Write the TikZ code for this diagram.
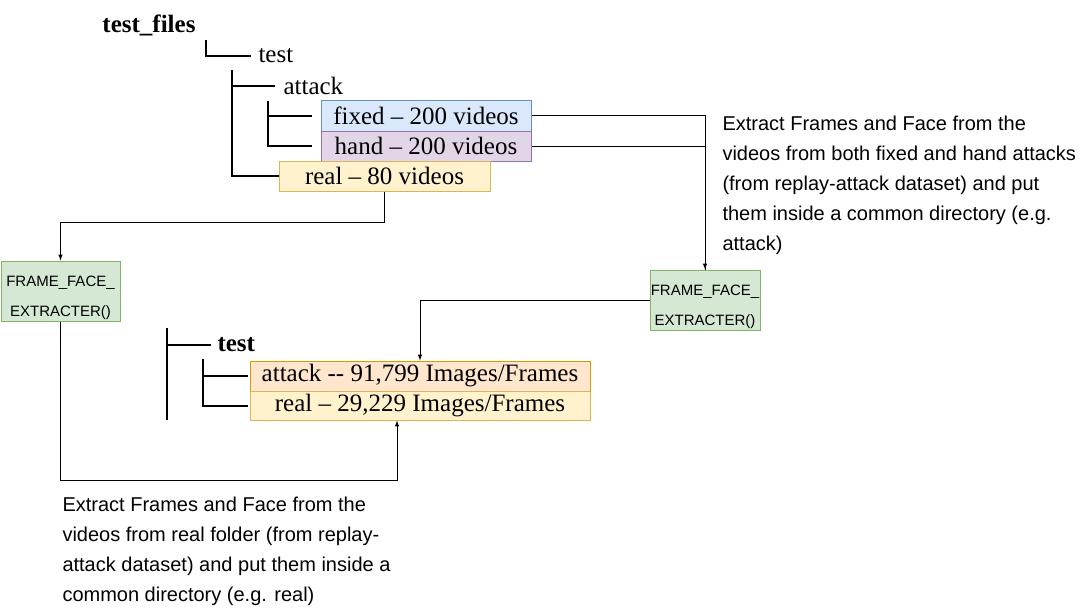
\documentclass[tikz,border=0pt]{standalone}
\usepackage{fontspec}
\setmainfont{Liberation Serif}
\setsansfont{Liberation Sans}
\usetikzlibrary{positioning}
\usetikzlibrary{arrows.meta}
\definecolor{fixedfill}{HTML}{DAE8FC}
\definecolor{fixedline}{HTML}{6C8EBF}
\definecolor{handfill}{HTML}{E1D5E7}
\definecolor{handline}{HTML}{9673A6}
\definecolor{realfill}{HTML}{FFF2CC}
\definecolor{realline}{HTML}{D6B656}
\definecolor{attackfill}{HTML}{FFE6CC}
\definecolor{attackline}{HTML}{D79B00}
\definecolor{funcfill}{HTML}{D5E8D4}
\definecolor{funcline}{HTML}{82B366}
\tikzset{
    tree/.style={line width=2pt},
    label/.style={anchor=west, inner sep=0pt, font=\fontsize{25}{30}\selectfont},
    folder/.style={draw, line width=1pt, inner sep=0pt, minimum height=30, font=\fontsize{25}{30}\selectfont},
    func/.style={draw=funcline, fill=funcfill, line width=1pt, inner sep=0pt, minimum width=110, minimum height=60, align=center, font=\sffamily\fontsize{15}{30}\selectfont},
    note/.style={anchor=north west, inner sep=0pt, align=left, font=\sffamily\fontsize{20}{30}\selectfont}
}
\newcommand{\funcname}{\rule{0pt}{25pt}FRAME\_FACE\_\\EXTRACTER()}
\begin{document}
\begin{tikzpicture}[x=1pt, y=-1pt, line width=1pt]
    \useasboundingbox (0,0) rectangle (1081,611);

    \node[font=\bfseries\fontsize{25}{30}\selectfont, inner sep=0pt] (root) at (149,25) {test\_files};
    \node[label] (test) at (258,56) {test};
    \node[label] (attack) at (283,86) {attack};
    \node[folder, draw=fixedline, fill=fixedfill, minimum width=210, minimum height=31] (fixed) at (426,115.5) {fixed – 200 videos};
    \node[folder, draw=handline, fill=handfill, minimum width=210] (hand) at (426,146) {hand – 200 videos};
    \node[folder, draw=realline, fill=realfill, minimum width=211] (real) at (384.5,176) {real – 80 videos};

    \node[func, minimum width=119] (extractL) at (60.5,291) {\funcname};
    \node[func] (extractR) at (705,300) {\funcname};

    \node[label, font=\bfseries\fontsize{25}{30}\selectfont] (test2) at (217,345) {test};
    \node[folder, draw=attackline, fill=attackfill, minimum width=340] (attack2) at (420,376) {attack -{}- 91,799 Images/Frames};
    \node[folder, draw=realline, fill=realfill, minimum width=340, minimum height=29] (real2) at (420,405.5) {real – 29,229 Images/Frames};

    \node[note] (noteR) at (722,116) {Extract Frames and Face from the\\videos from both fixed and hand attacks\\(from replay-attack dataset) and put\\them inside a common directory (e.g.\\attack)};
    \node[note] (noteL) at (62,496) {Extract Frames and Face from the\\videos from real folder (from replay-\\attack dataset) and put them inside a\\common directory (e.g. real)};

    \coordinate (t0) at (206,40);
    \coordinate (t1) at (232,70);
    \coordinate (t2) at (268,101);
    \coordinate (u1) at (167,328);
    \coordinate (u2) at (167,420);
    \coordinate (u3) at (203,359);
    \draw[tree] (t0) |- ([xshift=-7pt]test.west);
    \draw[tree] (t1) |- (real.west);
    \draw[tree] (t1 |- attack.west) -- ([xshift=-8pt]attack.west);
    \draw[tree] (t2) |- ([xshift=-9pt]hand.west);
    \draw[tree] (t2 |- fixed.west) -- ([xshift=-9pt]fixed.west);
    \draw[tree] (u1) -- (u2);
    \draw[tree] (u1 |- test2.west) -- ([xshift=-6pt]test2.west);
    \draw[tree] (u3) |- ([xshift=-2pt]real2.west);
    \draw[tree] (u3 |- attack2.west) -- ([xshift=-2pt]attack2.west);

    \draw[-latex] (real.south) -- ++(0,31) -| (extractL.north);
    \draw[-latex] (fixed.east) -| (extractR.north);
    \draw (hand.east) -| (extractR.north);
    \draw[-latex] (extractR.west) -| (attack2.north);
    \draw[-latex] (extractL.south) -- ++(0,159) -| ([xshift=-23pt]real2.south);
\end{tikzpicture}
\end{document}
